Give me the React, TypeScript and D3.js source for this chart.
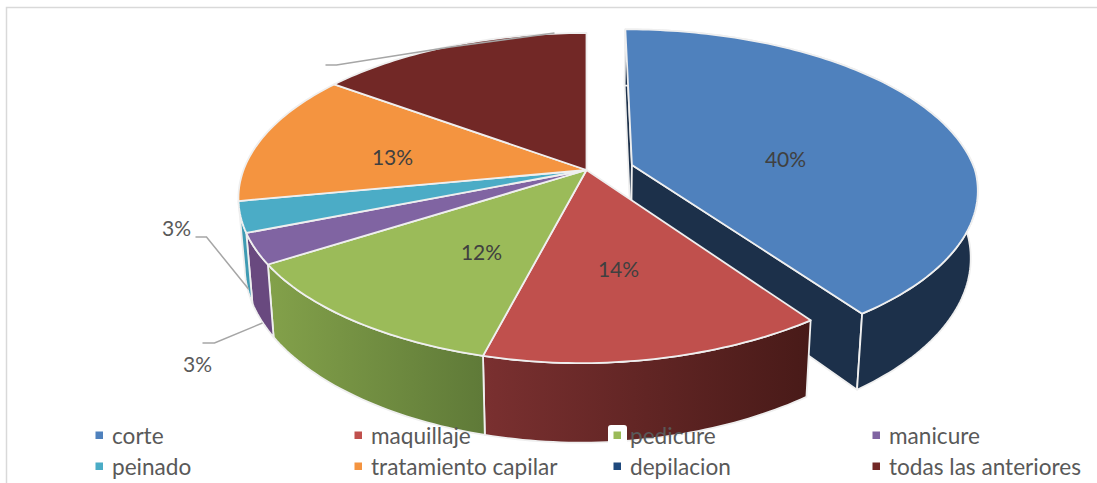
import React from "react";
import * as d3 from "d3";

// Services chosen by the respondents, in drawing order
const categories = ["corte", "maquillaje", "pedicure", "manicure", "peinado", "tratamiento capilar", "depilacion", "todas las anteriores"];
const percentages = [40, 14, 12, 3, 3, 13, 0, 15];
const topColors = ["#4f81bd", "#c0504d", "#9bbb59", "#8064a2", "#4bacc6", "#f49440", "#1f497d", "#722826"];
const shownLabels = ["40%", "14%", "12%", "3%", "3%", "13%", "", ""];

const WIDTH = 1097;
const HEIGHT = 483;
const CX = 586.5;
const CY = 170;
const RX = 343;
const RY = 160.3;
const PERSPECTIVE = 0.17;
const DEPTH = 66;
const EXPLODE = 0.14;
const FRONT_SHIFT = 12;

type Pt = [number, number];

// Perspective projection of a point on the disc; level 0 is the top face, 1 the bottom face
function project(u: number, v: number, level = 0): Pt {
  const s = 1 / (1 - PERSPECTIVE * v);
  const skew = FRONT_SHIFT * Math.max(v, 0) * (0.5 + 0.5 * Math.tanh(u * 4));
  return [
    CX + RX * u * s * (1 - 0.018 * level) - skew,
    CY + RY * v * s + DEPTH * s * level,
  ];
}

const toPath = d3.line<Pt>();

function arcPts(a0: number, a1: number, ox: number, oy: number, level: number): Pt[] {
  const n = Math.max(2, Math.ceil(Math.abs(a1 - a0) / 0.02));
  return d3.range(n + 1).map((i) => {
    const a = a0 + ((a1 - a0) * i) / n;
    return project(Math.sin(a) + ox, -Math.cos(a) + oy, level);
  });
}

const pieGen = d3.pie<number>().sort(null).startAngle(0).endAngle(2 * Math.PI);
const slices = pieGen(percentages);

// Slice geometry; only the first slice is pulled out of the pie
const geometry = slices.map((sl, i) => {
  const mid = (sl.startAngle + sl.endAngle) / 2;
  const ox = i === 0 ? EXPLODE * Math.sin(mid) : 0;
  const oy = i === 0 ? -EXPLODE * Math.cos(mid) + 0.012 : 0;
  const apexTop = project(ox, oy, 0);
  const apexBase = project(ox, oy, 1);
  const top = arcPts(sl.startAngle, sl.endAngle, ox, oy, 0);
  const base = arcPts(sl.startAngle, sl.endAngle, ox, oy, 1);
  return {
    top: toPath([apexTop, ...top]) + "Z",
    wall: toPath([...top, ...base.slice().reverse()]) + "Z",
    cutStart: toPath([apexTop, top[0], base[0], apexBase]) + "Z",
    cutEnd: toPath([apexTop, top[top.length - 1], base[base.length - 1], apexBase]) + "Z",
    xs: d3.extent(top, (p) => p[0]) as [number, number],
  };
});

// Shaded side colours for the visible rim; the back slices show no rim
const wallFills = ["#1c304a", "url(#wall1)", "url(#wall2)", "#69497f", "#3f9bb3", null, null, null];

// Legend grid: four columns, two rows
const legendX = d3.scalePoint<number>().domain([0, 1, 2, 3]).range([99, 876]);
const legendY = d3.scalePoint<number>().domain([0, 1]).range([435, 466]);

// Data label placement relative to the pie centre
const labelOffsets: Pt[] = [
  [199, -12],
  [32, 98],
  [-105, 81],
  [-410, 57],
  [-389, 193],
  [-194, -14],
];

// Leader lines, relative to the pie centre
const leaders: Pt[][] = [
  [[-391, 67], [-380, 67], [-338, 119]],
  [[-384, 173], [-372, 173], [-324, 153]],
  [[-261, -105], [-250, -105], [-136, -123], [-32, -137]],
];

export default function App() {
  return (
    <svg width={WIDTH} height={HEIGHT} style={{ position: "absolute", left: 0, top: 0 }} fontFamily="Lato, 'Open Sans', sans-serif">
      <defs>
        <linearGradient id="wall1" gradientUnits="userSpaceOnUse" x1={geometry[1].xs[0]} x2={geometry[1].xs[1]} y1={0} y2={0}>
          <stop offset="0" stopColor="#7a3030" />
          <stop offset="1" stopColor="#481a18" />
        </linearGradient>
        <linearGradient id="wall2" gradientUnits="userSpaceOnUse" x1={geometry[2].xs[0]} x2={geometry[2].xs[1]} y1={0} y2={0}>
          <stop offset="0" stopColor="#83a14a" />
          <stop offset="1" stopColor="#5f7a38" />
        </linearGradient>
      </defs>
      <rect width={WIDTH} height={HEIGHT} fill="#fff" />
      <path d={`M6.5 ${HEIGHT}V7.5H${WIDTH}`} fill="none" stroke="#d9d9d9" strokeWidth={1.5} />

      {/* The pulled-out slice goes first so the rest of the pie covers its inner wall */}
      <g stroke="#efefef" strokeWidth={1.8} strokeLinejoin="round">
        <path d={geometry[0].cutStart} fill={wallFills[0]!} />
        <path d={geometry[0].cutEnd} fill={wallFills[0]!} />
        <path d={geometry[0].wall} fill={wallFills[0]!} />
        <path d={geometry[0].top} fill={topColors[0]} />
      </g>
      <g stroke="#efefef" strokeWidth={1.8} strokeLinejoin="round">
        {geometry.slice(1).map((g, i) => wallFills[i + 1] && (
          <path key={i} d={g.wall} fill={wallFills[i + 1]!} />
        ))}
        {geometry.slice(1).map((g, i) => percentages[i + 1] > 0 && (
          <path key={i} d={g.top} fill={topColors[i + 1]} />
        ))}
      </g>

      <g fill="none" stroke="#a6a6a6" strokeWidth={1.5}>
        {leaders.map((pts, i) => (
          <path key={i} d={toPath(pts.map(([x, y]) => [CX + x, CY + y] as Pt)) ?? ""} />
        ))}
      </g>

      <g fontSize={21} textAnchor="middle" dominantBaseline="central">
        {labelOffsets.map(([x, y], i) => (
          <text key={i} x={CX + x} y={CY + y} fill={i === 3 || i === 4 ? "#595959" : "#404040"}>{shownLabels[i]}</text>
        ))}
      </g>

      <g fontSize={22.6} fill="#595959">
        {categories.map((c, i) => {
          const x = legendX(i % 4)!;
          const y = legendY(Math.floor(i / 4))!;
          return (
            <g key={c}>
              {i === 2 && <rect x={x - 9} y={y - 10} width={19} height={20} rx={3} fill="#fff" />}
              <rect x={x - 3.5} y={y - 3.5} width={7.5} height={7.5} fill={topColors[i]} />
              <text x={x + 13} y={y} dominantBaseline="central">{c}</text>
            </g>
          );
        })}
      </g>
    </svg>
  );
}
